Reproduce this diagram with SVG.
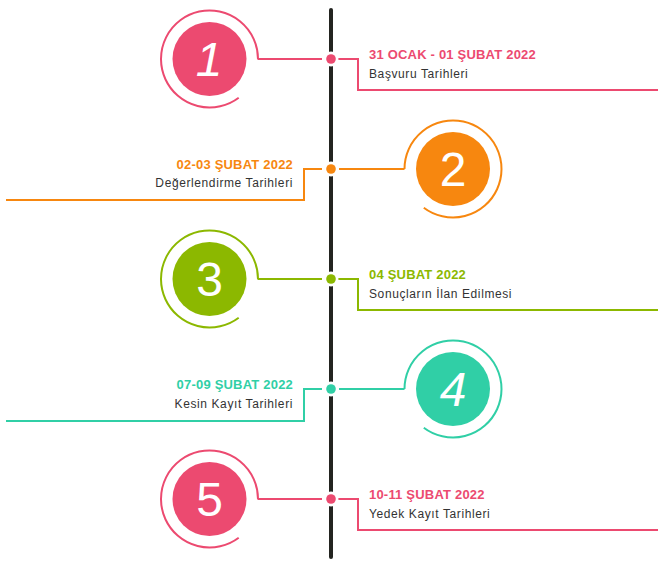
<svg xmlns="http://www.w3.org/2000/svg" width="658" height="575" viewBox="0 0 658 575">
<style>
.ring{fill:none;stroke-width:2}
.ln{fill:none;stroke-width:2}
.gap{fill:#fff}
.num{font-family:"Liberation Sans",Arial,sans-serif;font-size:48px;fill:#fff;text-anchor:middle}
.it{font-style:italic}
.ttl{font-family:"Liberation Sans",Arial,sans-serif;font-size:13px;font-weight:bold;letter-spacing:0.2px}
.sub{font-family:"Liberation Sans",Arial,sans-serif;font-size:12px;fill:#333;letter-spacing:0.6px}
.end{text-anchor:end}
</style>
<rect width="658" height="575" fill="#fff"/>
<line x1="331" y1="10" x2="331" y2="557" stroke="#232420" stroke-width="4" stroke-linecap="round"/>
<g id="connectors">
  <path class="ln" stroke="#ec4a70" d="M257.5 59 H322 M338 59 H358 V90 H658"/>
  <path class="ln" stroke="#f7870f" d="M6 200 H304 V169 H322 M339 169 H404.5"/>
  <path class="ln" stroke="#8cb800" d="M257.5 279 H322 M338 279 H358 V310 H658"/>
  <path class="ln" stroke="#30cfa6" d="M6 421 H304 V389 H322 M339 389 H404.5"/>
  <path class="ln" stroke="#ec4a70" d="M257.5 499 H322 M338 499 H358 V530 H658"/>
</g>
<g id="node1">
  <path class="ring" stroke="#ec4a70" d="M258 59 A48.5 48.5 0 1 0 238.7 97.7"/>
  <circle cx="209.5" cy="59" r="37" fill="#ec4a70"/>
  <text class="num it" x="209" y="76">1</text>
  <circle class="gap" cx="331" cy="59" r="7.5"/>
  <circle cx="331" cy="59" r="4.8" fill="#ec4a70"/>
  <text class="ttl" x="369" y="58.5" fill="#ec4a70">31 OCAK - 01 ŞUBAT 2022</text>
  <text class="sub" x="369" y="77.5">Başvuru Tarihleri</text>
</g>
<g id="node2">
  <path class="ring" stroke="#f7870f" d="M404.5 169 A48.5 48.5 0 1 1 423.8 207.7"/>
  <circle cx="453" cy="169" r="37" fill="#f7870f"/>
  <text class="num" x="453" y="186">2</text>
  <circle class="gap" cx="331" cy="169" r="7.5"/>
  <circle cx="331" cy="169" r="4.8" fill="#f7870f"/>
  <text class="ttl end" x="293" y="168.5" fill="#f7870f">02-03 ŞUBAT 2022</text>
  <text class="sub end" x="293" y="187">Değerlendirme Tarihleri</text>
</g>
<g id="node3">
  <path class="ring" stroke="#8cb800" d="M258 279 A48.5 48.5 0 1 0 238.7 317.7"/>
  <circle cx="209.5" cy="279" r="37" fill="#8cb800"/>
  <text class="num" x="209.5" y="296">3</text>
  <circle class="gap" cx="331" cy="279" r="7.5"/>
  <circle cx="331" cy="279" r="4.8" fill="#8cb800"/>
  <text class="ttl" x="369" y="278.5" fill="#8cb800">04 ŞUBAT 2022</text>
  <text class="sub" x="369" y="297.5">Sonuçların İlan Edilmesi</text>
</g>
<g id="node4">
  <path class="ring" stroke="#30cfa6" d="M404.5 389 A48.5 48.5 0 1 1 423.8 427.7"/>
  <circle cx="453" cy="389" r="37" fill="#30cfa6"/>
  <text class="num it" x="453" y="406">4</text>
  <circle class="gap" cx="331" cy="389" r="7.5"/>
  <circle cx="331" cy="389" r="4.8" fill="#30cfa6"/>
  <text class="ttl end" x="293" y="388.5" fill="#30cfa6">07-09 ŞUBAT 2022</text>
  <text class="sub end" x="293" y="407.5">Kesin Kayıt Tarihleri</text>
</g>
<g id="node5">
  <path class="ring" stroke="#ec4a70" d="M258 499 A48.5 48.5 0 1 0 238.7 537.7"/>
  <circle cx="209.5" cy="499" r="37" fill="#ec4a70"/>
  <text class="num" x="209.5" y="516">5</text>
  <circle class="gap" cx="331" cy="499" r="7.5"/>
  <circle cx="331" cy="499" r="4.8" fill="#ec4a70"/>
  <text class="ttl" x="369" y="498.5" fill="#ec4a70">10-11 ŞUBAT 2022</text>
  <text class="sub" x="369" y="517.5">Yedek Kayıt Tarihleri</text>
</g>
</svg>
